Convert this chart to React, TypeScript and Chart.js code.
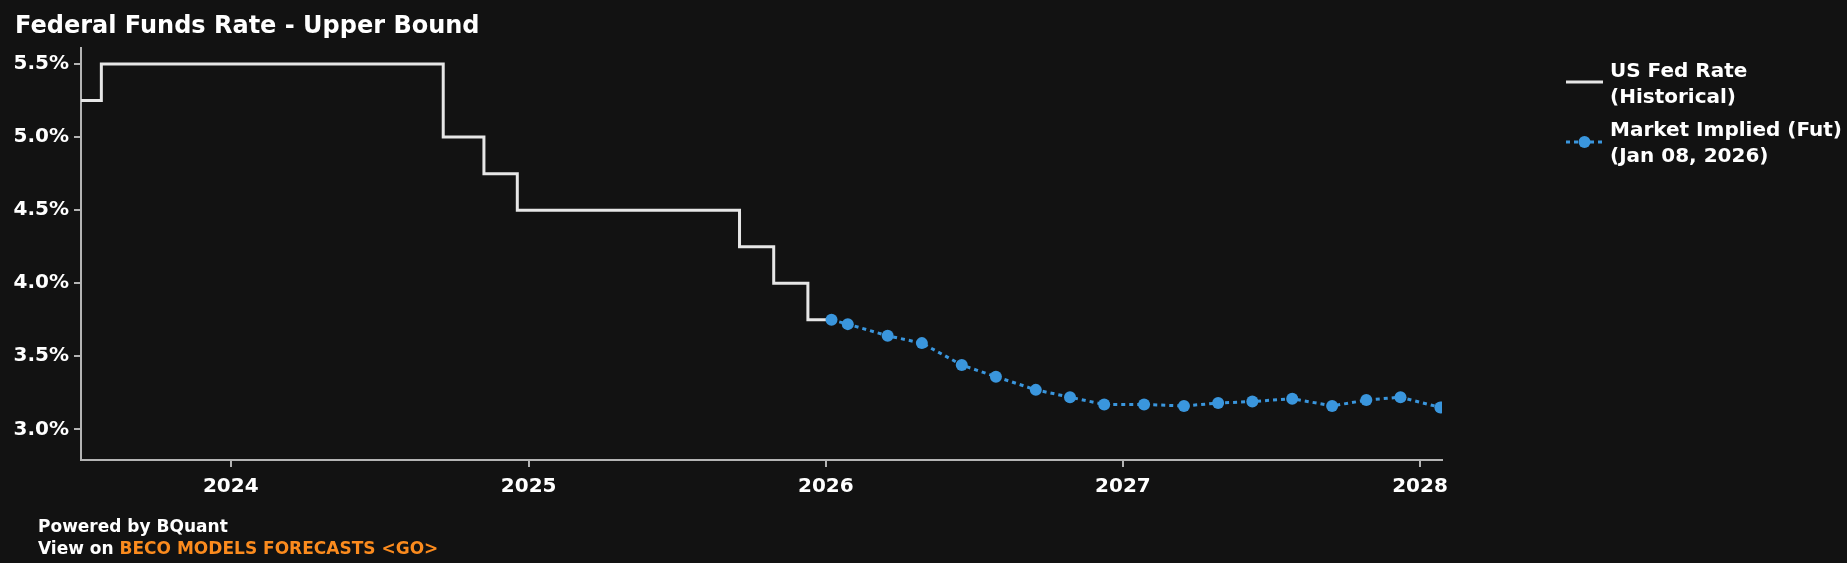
import React, { useEffect, useRef } from 'react';
import { Chart, registerables } from 'chart.js';

Chart.register(...registerables);

// ---- Data ----
const historicalDates = [
  '2023-07-01', '2023-07-26', '2024-09-18', '2024-11-07', '2024-12-18',
  '2025-09-17', '2025-10-29', '2025-12-10', '2026-01-08',
];
const historicalRates = [5.25, 5.5, 5.0, 4.75, 4.5, 4.25, 4.0, 3.75, 3.75];

const impliedDates = [
  '2026-01-08', '2026-01-28', '2026-03-18', '2026-04-29', '2026-06-17', '2026-07-29',
  '2026-09-16', '2026-10-28', '2026-12-09', '2027-01-27', '2027-03-17', '2027-04-28',
  '2027-06-09', '2027-07-28', '2027-09-15', '2027-10-27', '2027-12-08', '2028-01-26',
];
const impliedRates = [
  3.75, 3.72, 3.64, 3.59, 3.44, 3.36,
  3.27, 3.22, 3.17, 3.17, 3.16, 3.18,
  3.19, 3.21, 3.16, 3.20, 3.22, 3.15,
];

const yearTicks = [2024, 2025, 2026, 2027, 2028];
const rateTicks = [3.0, 3.5, 4.0, 4.5, 5.0, 5.5];
const xMinDate = '2023-07-01';
const xMaxDate = '2028-01-28';
const yMin = 2.79;
const yMax = 5.61;

const titleText = 'Federal Funds Rate - Upper Bound';
const legendHistorical = ['US Fed Rate', '(Historical)'];
const legendImplied = ['Market Implied (Fut)', '(Jan 08, 2026)'];
const footerLine1 = 'Powered by BQuant';
const footerPrefix = 'View on ';
const footerLink = 'BECO MODELS FORECASTS <GO>';

// ---- Styles ----
const FONT = '"DejaVu Sans"';
const BG = '#121212';
const WHITE_LINE = '#e6e6e6';
const BLUE = '#3a96dd';
const AXIS = '#b4b4b4';
const ORANGE = '#fb8b1e';

const toTime = (d: string) => Date.parse(d + 'T00:00:00Z');

const textPlugin = {
  id: 'textPlugin',
  afterDraw(chart: any) {
    const ctx = chart.ctx as CanvasRenderingContext2D;
    ctx.save();
    ctx.textBaseline = 'alphabetic';
    ctx.textAlign = 'left';
    ctx.fillStyle = '#ffffff';

    // title
    ctx.font = `bold 24px ${FONT}`;
    ctx.fillText(titleText, 15, 33);

    // legend
    const lx0 = 1566;
    const lx1 = 1603;
    const tx = 1610;
    ctx.strokeStyle = WHITE_LINE;
    ctx.lineWidth = 3;
    ctx.beginPath();
    ctx.moveTo(lx0, 82);
    ctx.lineTo(lx1, 82);
    ctx.stroke();

    ctx.strokeStyle = BLUE;
    ctx.setLineDash([4, 4]);
    ctx.beginPath();
    ctx.moveTo(lx0, 142);
    ctx.lineTo(lx1, 142);
    ctx.stroke();
    ctx.setLineDash([]);
    ctx.fillStyle = BLUE;
    ctx.beginPath();
    ctx.arc((lx0 + lx1) / 2, 142, 6, 0, Math.PI * 2);
    ctx.fill();

    ctx.fillStyle = '#ffffff';
    ctx.font = `bold 20px ${FONT}`;
    ctx.fillText(legendHistorical[0], tx, 77);
    ctx.fillText(legendHistorical[1], tx, 103);
    ctx.fillText(legendImplied[0], tx, 136);
    ctx.fillText(legendImplied[1], tx, 162);

    // footer
    ctx.font = `bold 17px ${FONT}`;
    ctx.fillText(footerLine1, 38, 532);
    ctx.fillText(footerPrefix, 38, 554);
    const w = ctx.measureText(footerPrefix).width;
    ctx.fillStyle = ORANGE;
    ctx.fillText(footerLink, 38 + w, 554);
    ctx.restore();
  },
};

export default function App() {
  const ref = useRef<HTMLCanvasElement | null>(null);

  useEffect(() => {
    if (!ref.current) return;
    const tickFont = { family: FONT, size: 20, weight: 'bold' as const };
    const chart = new Chart(ref.current, {
      type: 'line',
      data: {
        datasets: [
          {
            label: 'US Fed Rate (Historical)',
            data: historicalDates.map((d, i) => ({ x: toTime(d), y: historicalRates[i] })),
            stepped: 'before',
            borderColor: WHITE_LINE,
            borderWidth: 3,
            pointRadius: 0,
            fill: false,
            order: 2,
          },
          {
            label: 'Market Implied (Fut) (Jan 08, 2026)',
            data: impliedDates.map((d, i) => ({ x: toTime(d), y: impliedRates[i] })),
            borderColor: BLUE,
            backgroundColor: BLUE,
            borderWidth: 3,
            borderDash: [4, 4],
            pointRadius: 6,
            pointBorderWidth: 0,
            pointBackgroundColor: BLUE,
            tension: 0,
            fill: false,
            order: 1,
          },
        ],
      },
      options: {
        responsive: false,
        animation: false,
        events: [],
        layout: { padding: { left: 0, top: 48, right: 405, bottom: 0 } },
        scales: {
          x: {
            type: 'linear',
            min: toTime(xMinDate),
            max: toTime(xMaxDate),
            afterBuildTicks: (s: any) => {
              s.ticks = yearTicks.map((y) => ({ value: Date.UTC(y, 0, 1) }));
            },
            afterFit: (s: any) => {
              s.height = 103;
            },
            ticks: {
              callback: (v: any) => String(new Date(Number(v)).getUTCFullYear()),
              color: '#ffffff',
              font: tickFont,
              padding: 8,
              maxRotation: 0,
              autoSkip: false,
            },
            grid: { drawOnChartArea: false, tickLength: 7, color: AXIS, lineWidth: 2 },
            border: { color: AXIS, width: 2 },
          },
          y: {
            type: 'linear',
            min: yMin,
            max: yMax,
            afterBuildTicks: (s: any) => {
              s.ticks = rateTicks.map((v) => ({ value: v }));
            },
            afterFit: (s: any) => {
              s.width = 81;
            },
            ticks: {
              callback: (v: any) => Number(v).toFixed(1) + '%',
              color: '#ffffff',
              font: tickFont,
              padding: 5,
            },
            grid: { drawOnChartArea: false, tickLength: 7, color: AXIS, lineWidth: 2 },
            border: { color: AXIS, width: 2 },
          },
        },
        plugins: {
          legend: { display: false },
          title: { display: false },
          tooltip: { enabled: false },
        },
      },
      plugins: [textPlugin],
    } as any);
    return () => chart.destroy();
  }, []);

  return (
    <div
      style={{
        position: 'fixed',
        left: 0,
        top: 0,
        width: 1847,
        height: 563,
        background: BG,
      }}
    >
      <canvas ref={ref} width={1847} height={563} style={{ display: 'block' }} />
    </div>
  );
}
